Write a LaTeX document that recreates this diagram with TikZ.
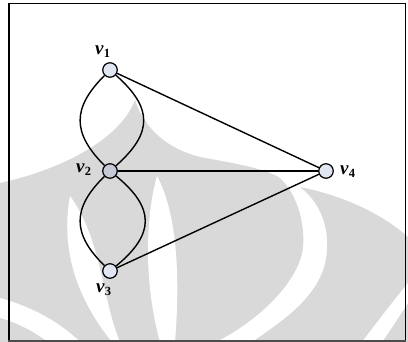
\documentclass[tikz,border=0pt]{standalone}
\usepackage{fontspec}
\setmainfont{Liberation Serif}
\definecolor{wm}{RGB}{217,217,217}
\definecolor{vfill}{RGB}{224,231,243}
\definecolor{vfilldark}{RGB}{197,202,214}
\newcommand{\vlab}[1]{\textbf{\textit{v}}\raisebox{-3pt}{\fontsize{12.5}{13}\selectfont\bfseries #1}}
\begin{document}
\begin{tikzpicture}[x=1pt,y=-1pt,
  vtx/.style={circle, draw=black, line width=1.2pt, minimum size=14.5pt, inner sep=0pt, fill=vfill},
  lbl/.style={font=\fontsize{19}{20}\selectfont, inner sep=0pt, anchor=base west},
  edge/.style={line width=1.4pt, black},
  frame/.style={line width=1.5pt}]
\useasboundingbox (0,0) rectangle (408,342);
% watermark
\fill[wm] (0,183) .. controls (60,170) and (120,140) .. (135,100)
  .. controls (147,135) and (175,152) .. (205,158)
  .. controls (240,164) and (268,170) .. (280,178)
  .. controls (298,195) and (305,225) .. (303,247)
  .. controls (300,280) and (260,320) .. (216,342) -- (0,342) -- cycle;
\fill[wm] (300,187) .. controls (340,195) and (380,212) .. (408,237) -- (408,342) -- (252,342)
  .. controls (292,315) and (325,290) .. (327,250)
  .. controls (329,220) and (315,198) .. (300,187) -- cycle;
\fill[white] (408,283) .. controls (390,305) and (375,325) .. (362,342) -- (382,342)
  .. controls (392,328) and (400,315) .. (408,303) -- cycle;
\fill[white] (70,196) .. controls (62,240) and (70,290) .. (112,342) -- (120,342)
  .. controls (102,300) and (102,240) .. (70,196) -- cycle;
\fill[white] (157,176) .. controls (146,215) and (143,280) .. (160,342) -- (175,342)
  .. controls (180,280) and (178,215) .. (157,176) -- cycle;
\fill[white] (0,298) .. controls (30,306) and (60,322) .. (80,342) -- (48,342)
  .. controls (32,330) and (15,322) .. (0,318) -- cycle;
% frame
\draw[frame] (8.5,3.5) -- (405.5,3.5);
\draw[line width=2pt] (8.5,3) -- (8.5,341);
\draw[line width=1pt] (405.5,3) -- (405.5,341);
\draw[line width=1.5pt, black!70] (8,340.8) -- (406,340.8);
% vertices
\node[vtx] (v1) at (110,70) {};
\node[vtx, fill=vfilldark] (v2) at (110,171) {};
\node[vtx] (v3) at (110,271) {};
\node[vtx] (v4) at (326,171) {};
% edges
\draw[edge] (v1) .. controls (72,108) and (72,133) .. (v2);
\draw[edge] (v1) .. controls (153,108) and (153,133) .. (v2);
\draw[edge] (v2) .. controls (72,208) and (72,234) .. (v3);
\draw[edge] (v2) .. controls (155,208) and (155,234) .. (v3);
\draw[edge] (v1) -- (v4);
\draw[edge] (v2) -- (v4);
\draw[edge] (v3) -- (v4);
% labels
\node[lbl] (l1) at (95,55) {\vlab{1}};
\node[lbl] (l2) at (76,173) {\vlab{2}};
\node[lbl] (l3) at (96,293) {\vlab{3}};
\node[lbl] (l4) at (340,174.5) {\vlab{4}};
\end{tikzpicture}
\end{document}
